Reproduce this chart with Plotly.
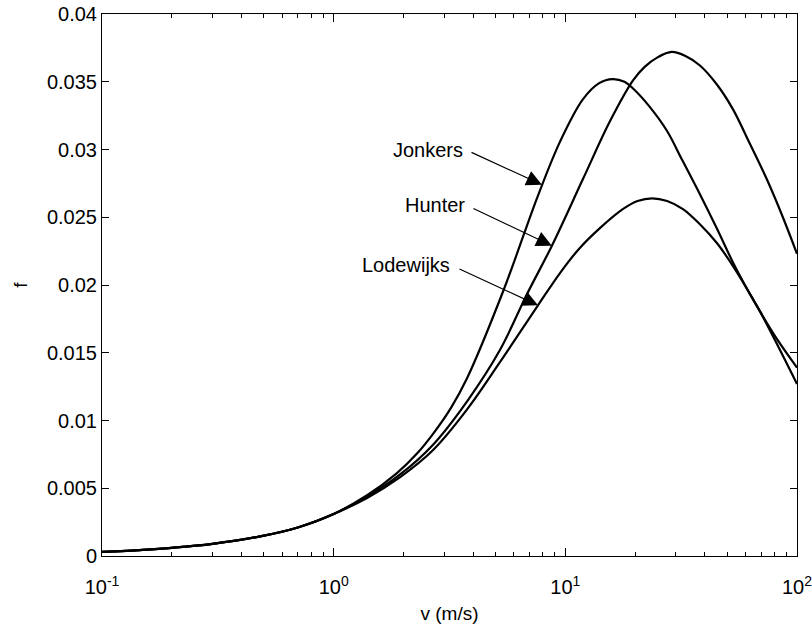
import plotly.graph_objects as go
import math

# ---- data ----
v_jonkers = [0.1, 0.15, 0.2, 0.3, 0.5, 0.7, 1.0, 1.4, 1.87, 2.3, 2.68, 3.2, 3.76, 5.38, 7.62, 9.5, 11.9, 14.0, 16.0, 18.0, 19.6, 23.0, 27.4, 32.0, 38.1, 45.0, 52.8, 60.0, 69.5, 80.0, 100]
f_jonkers = [0.0003, 0.00045, 0.0006, 0.0009, 0.0015, 0.0021, 0.0031, 0.0045, 0.0061, 0.0076, 0.0090, 0.0109, 0.0131, 0.0195, 0.0266, 0.0306, 0.0337, 0.0349, 0.0352, 0.0350, 0.0345, 0.0332, 0.0314, 0.0292, 0.0267, 0.0242, 0.0217, 0.0199, 0.0180, 0.0160, 0.0127]

v_hunter = [0.1, 0.15, 0.2, 0.3, 0.5, 0.7, 1.0, 1.4, 1.93, 2.68, 3.76, 5.22, 6.82, 8.75, 11.9, 15.6, 19.6, 22.0, 25.0, 28.8, 33.0, 38.1, 45.1, 52.8, 62.7, 74.1, 86.9, 100]
f_hunter = [0.0003, 0.00045, 0.0006, 0.0009, 0.0015, 0.0021, 0.0031, 0.0044, 0.0060, 0.0082, 0.0114, 0.0152, 0.0193, 0.0229, 0.0278, 0.0321, 0.0351, 0.0361, 0.0368, 0.0372, 0.0369, 0.0362, 0.0348, 0.0330, 0.0304, 0.0278, 0.0250, 0.0223]

v_lodewijks = [0.1, 0.15, 0.2, 0.3, 0.5, 0.7, 1.0, 1.4, 1.93, 2.68, 3.76, 5.22, 7.62, 9.5, 11.5, 14.1, 17.7, 20.5, 23.7, 27.5, 32.2, 38.0, 45.1, 52.0, 58.5, 69.5, 82.0, 100]
f_lodewijks = [0.0003, 0.00045, 0.0006, 0.0009, 0.0015, 0.0021, 0.0031, 0.0043, 0.0058, 0.0078, 0.0108, 0.0143, 0.0185, 0.0209, 0.0227, 0.0242, 0.0256, 0.0262, 0.0264, 0.0262, 0.0256, 0.0245, 0.0231, 0.0216, 0.0202, 0.0180, 0.0160, 0.0139]

labels = ["Jonkers", "Hunter", "Lodewijks"]
label_v = [7.93, 8.75, 7.62]
label_f = [0.0274, 0.0229, 0.0185]

x_tickvals = [0.1, 1, 10, 100]
x_ticktext = ["10<sup>-1</sup>", "10<sup>0</sup>", "10<sup>1</sup>", "10<sup>2</sup>"]
y_tickvals = [0, 0.005, 0.01, 0.015, 0.02, 0.025, 0.03, 0.035, 0.04]
y_ticktext = ["0", "0.005", "0.01", "0.015", "0.02", "0.025", "0.03", "0.035", "0.04"]

FONT = "Liberation Sans, Arial, sans-serif"

fig = go.Figure()
for v, f, name in [(v_jonkers, f_jonkers, "Jonkers"), (v_hunter, f_hunter, "Hunter"), (v_lodewijks, f_lodewijks, "Lodewijks")]:
    fig.add_trace(go.Scatter(x=v, y=f, mode="lines", name=name,
                             line=dict(color="black", width=2.2, shape="spline", smoothing=1.0),
                             showlegend=False))

minor_vals = [m * 10 ** e for e in (-1, 0, 1) for m in range(2, 10)]

# arrow offsets (pixels) and text offsets
arrow_off = [(-72, -33), (-80, -38), (-80, -37)]
text_shift = [(-77, 35), (-85, 41), (-86, 40)]

annotations = []
for name, xv, yv, (ax, ay), (xs, ys) in zip(labels, label_v, label_f, arrow_off, text_shift):
    annotations.append(dict(x=math.log10(xv), y=yv, xref="x", yref="y", text="",
                            showarrow=True, ax=ax, ay=ay, axref="pixel", ayref="pixel",
                            arrowhead=2, arrowsize=2.6, arrowwidth=1.2, arrowcolor="black",
                            standoff=0, startstandoff=0))
    annotations.append(dict(x=math.log10(xv), y=yv, xref="x", yref="y", text=name,
                            showarrow=False, xanchor="right", yanchor="middle",
                            xshift=xs, yshift=ys,
                            font=dict(family=FONT, size=20, color="black")))

fig.update_layout(
    width=812, height=624,
    margin=dict(l=102, r=15, t=14, b=68),
    paper_bgcolor="white", plot_bgcolor="white",
    font=dict(family=FONT, size=20, color="black"),
    annotations=annotations,
    xaxis=dict(type="log", range=[-1, 2], automargin=False,
               tickmode="array", tickvals=x_tickvals, ticktext=x_ticktext,
               ticks="inside", ticklen=8, tickwidth=1, tickcolor="black",
               ticklabelstandoff=13, ticklabeloverflow="allow",
               showline=True, linecolor="black", linewidth=1, mirror="allticks",
               showgrid=False, zeroline=False,
               minor=dict(tickmode="array", tickvals=minor_vals, ticks="inside",
                          ticklen=4, tickwidth=1, tickcolor="black", showgrid=False),
               title=dict(text="v (m/s)", font=dict(family=FONT, size=19), standoff=10),
               tickfont=dict(family=FONT, size=20)),
    yaxis=dict(range=[0, 0.04], automargin=False,
               tickmode="array", tickvals=y_tickvals, ticktext=y_ticktext,
               ticks="inside", ticklen=7, tickwidth=1, tickcolor="black",
               showline=True, linecolor="black", linewidth=1, mirror="allticks",
               showgrid=False, zeroline=False,
               title=dict(text="f", font=dict(family=FONT, size=19), standoff=14),
               tickfont=dict(family=FONT, size=20)),
)

fig.write_html("out.html")
